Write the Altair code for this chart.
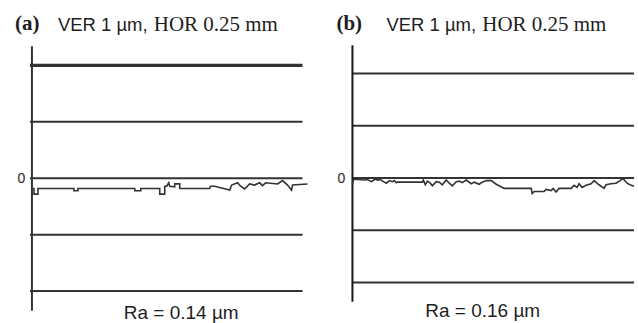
import altair as alt
import pandas as pd

# ---------------- data ----------------
# panel (a): horizontal position (arbitrary units from the vertical axis) and height in µm
a_pos = [1, 2, 2, 6, 6, 42, 42, 46, 46, 103, 103, 109, 109, 128, 128, 133, 133, 135, 137, 138,
         143, 143, 148, 148, 178, 179, 183, 198, 200, 206, 209, 213, 218, 223, 228, 231, 234,
         246, 251, 256, 260, 261, 276]
a_val = [-0.18, -0.18, -0.28, -0.28, -0.18, -0.18, -0.22, -0.22, -0.18, -0.18, -0.22, -0.22,
         -0.18, -0.18, -0.28, -0.28, -0.14, -0.14, -0.08, -0.14, -0.15, -0.10, -0.10, -0.18,
         -0.18, -0.14, -0.14, -0.21, -0.12, -0.08, -0.14, -0.19, -0.10, -0.12, -0.08, -0.13,
         -0.08, -0.10, -0.04, -0.12, -0.21, -0.12, -0.10]

# panel (b)
b_pos = [0, 1, 7, 12, 15, 19, 23, 25, 28, 31, 34, 37, 40, 42, 44, 45, 70, 71, 73, 75, 78, 80,
         84, 87, 90, 94, 97, 100, 104, 107, 110, 114, 119, 122, 127, 130, 134, 139, 144, 152,
         179, 180, 182, 192, 194, 199, 201, 204, 207, 219, 222, 225, 227, 230, 234, 239, 242,
         247, 252, 254, 259, 264, 268, 271, 275, 278, 282]
b_val = [-0.11, -0.03, -0.03, -0.04, -0.03, -0.07, -0.02, -0.04, -0.03, -0.07, -0.10, -0.05,
         -0.07, -0.05, -0.09, -0.08, -0.08, -0.04, -0.13, -0.06, -0.10, -0.15, -0.07, -0.08,
         -0.13, -0.04, -0.10, -0.15, -0.07, -0.06, -0.09, -0.04, -0.11, -0.08, -0.12, -0.08,
         -0.05, -0.05, -0.12, -0.20, -0.20, -0.30, -0.26, -0.26, -0.22, -0.24, -0.20, -0.27,
         -0.20, -0.20, -0.14, -0.18, -0.11, -0.18, -0.14, -0.11, -0.05, -0.13, -0.20, -0.13,
         -0.11, -0.10, -0.05, -0.01, -0.10, -0.13, -0.16]

grid_levels = [2, 1, 0, -1, -2]
panel_labels = ["(a)", "(b)"]
scale_sans = ["VER 1 µm,", "VER 1 µm,"]
scale_serif = ["HOR 0.25 mm", "HOR 0.25 mm"]
ra_labels = ["Ra = 0.14 µm", "Ra = 0.16 µm"]
zero_label = "0"

# grid extents (position units) and axis extents (µm) for each panel
a_grid_x = (-2, 271)
b_grid_x = (0, 282)
a_axis_y = (2.34, -2.35)
b_axis_y = (2.54, -2.37)

INK = "#333333"
TXT = "#1e1e1e"
SANS = "Liberation Sans"
SERIF = "Liberation Serif"


def panel(pos, val, xdom, ydom, grid_x, axis_y, k, top_width, axis_color,
          lab_x, sans_x, serif_x, ra_x, ra_y, zero_x):
    xs = alt.Scale(domain=list(xdom), nice=False, zero=False)
    ys = alt.Scale(domain=list(ydom), nice=False, zero=False)
    X = lambda f: alt.X(f, scale=xs, axis=None)
    Y = lambda f: alt.Y(f, scale=ys, axis=None)

    grid_df = pd.DataFrame({
        "lvl": grid_levels,
        "x0": [grid_x[0]] * len(grid_levels),
        "x1": [grid_x[1]] * len(grid_levels),
        "w": [top_width if g == 2 else 2.0 for g in grid_levels],
    })
    grid = alt.Chart(grid_df).mark_rule(color=INK).encode(
        x=X("x0:Q"), x2="x1:Q", y=Y("lvl:Q"),
        strokeWidth=alt.StrokeWidth("w:Q", scale=None, legend=None),
    )
    axis_df = pd.DataFrame({"x": [0], "y0": [axis_y[0]], "y1": [axis_y[1]]})
    axis_line = alt.Chart(axis_df).mark_rule(color=axis_color, strokeWidth=2).encode(
        x=X("x:Q"), y=Y("y0:Q"), y2="y1:Q"
    )
    prof_df = pd.DataFrame({"pos": pos, "val": val, "i": list(range(len(pos)))})
    prof = alt.Chart(prof_df).mark_line(color=INK, strokeWidth=1.6, strokeJoin="miter").encode(
        x=X("pos:Q"), y=Y("val:Q"), order="i:Q"
    )

    def txt(s, x, y, font, size, weight="normal", align="left", baseline="alphabetic"):
        return alt.Chart(pd.DataFrame({"t": [s]})).mark_text(
            font=font, fontSize=size, fontWeight=weight, align=align,
            baseline=baseline, color=TXT
        ).encode(text="t:N", x=alt.value(x), y=alt.value(y))

    zero = alt.Chart(pd.DataFrame({"t": [zero_label], "v": [0]})).mark_text(
        font=SANS, fontSize=14, align="center", baseline="middle", color=TXT, dy=1
    ).encode(text="t:N", x=alt.value(zero_x), y=Y("v:Q"))

    layers = [
        grid, axis_line, prof, zero,
        txt(panel_labels[k], lab_x, 30, SERIF, 21, weight="bold"),
        txt(scale_sans[k], sans_x, 30.5, SANS, 18.5),
        txt(scale_serif[k], serif_x, 30.5, SERIF, 21),
        txt(ra_labels[k], ra_x, ra_y, SANS, 19, align="center"),
    ]
    return alt.layer(*layers).properties(width=319, height=323)


pa = panel(a_pos, a_val, (-32, 287), (-2.561, 3.156), a_grid_x, a_axis_y, 0, 3.3, INK,
           15, 58, 154, 181.5, 319, 21.5)
pb = panel(b_pos, b_val, (-34, 285), (-2.772, 3.403), b_grid_x, b_axis_y, 1, 2.0, "#1a1a1a",
           18, 68, 164, 164.5, 317, 23)

chart = alt.hconcat(pa, pb, spacing=0).properties(padding=0).configure_view(stroke=None)

chart.save("out.html", embed_options={"renderer": "svg", "actions": False})
